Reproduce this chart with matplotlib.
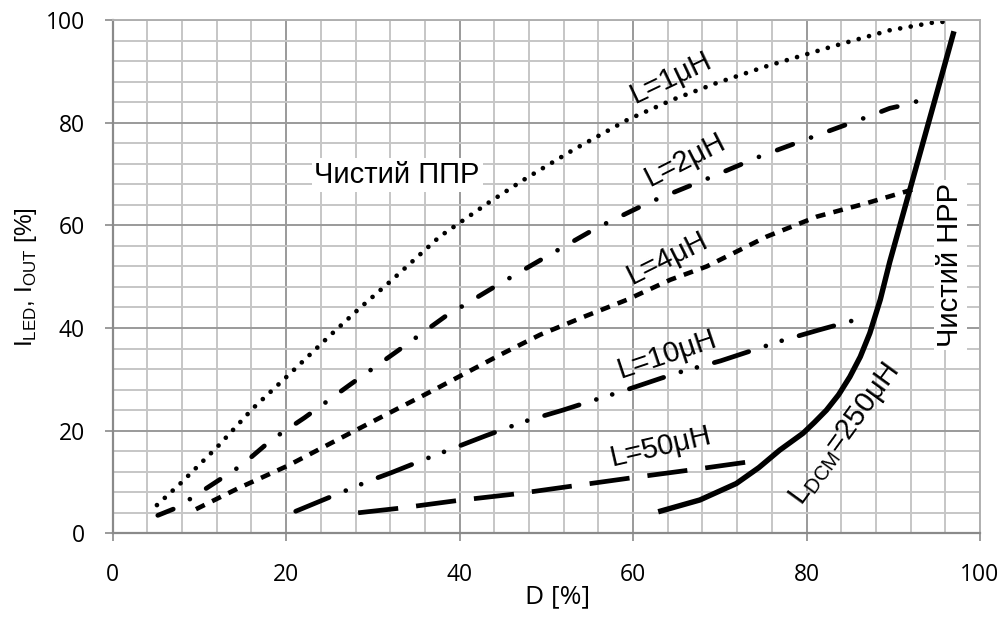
import numpy as np
import matplotlib
matplotlib.use('Agg')
import matplotlib.pyplot as plt

plt.rcParams['lines.scale_dashes'] = False
plt.rcParams['font.family'] = ['Liberation Sans', 'DejaVu Sans']

# duty cycle D [%] vs LED current [%] for several inductances
d_1uh = [5.1, 7.8, 12.1, 16.2, 20.5, 24.9, 28.5, 32.1, 37.7, 43.5, 47.7, 53.1,
         59.4, 64.6, 69.6, 75.4, 83.1, 89.6, 94.6, 96.2]
i_1uh = [5.5, 9.7, 16.9, 24.4, 31.2, 38.3, 43.9, 49.2, 57.8, 64.6, 69.2, 74.7,
         80.6, 84.5, 87.7, 91.0, 94.9, 98.0, 99.5, 99.7]

d_2uh = [5.2, 7.4, 11.1, 14.9, 18.3, 22.1, 27.4, 32.9, 38.3, 44.1, 50.0, 55.8,
         61.9, 68.3, 74.6, 81.0, 87.3, 89.6, 91.7, 93.9]
i_2uh = [3.5, 5.0, 9.1, 13.3, 18.2, 22.5, 29.0, 35.6, 42.2, 48.1, 53.9, 59.5,
         64.5, 68.9, 73.4, 77.4, 81.3, 82.8, 83.6, 84.8]

d_4uh = [9.6, 14.5, 20.1, 27.7, 37.0, 44.7, 49.3, 54.5, 59.3, 64.3, 68.5, 75.4,
         81.2, 86.9, 92.3]
i_4uh = [4.7, 8.8, 13.1, 19.8, 27.9, 34.8, 38.7, 42.3, 45.5, 49.4, 52.0, 57.8,
         61.7, 64.3, 67.0]

d_10uh = [21.1, 25.4, 29.7, 32.1, 36.4, 40.7, 43.0, 47.5, 51.9, 54.3, 58.8, 63.2,
          65.6, 70.1, 74.6, 76.9, 81.4, 85.9]
i_10uh = [4.3, 7.3, 10.3, 11.8, 14.7, 17.5, 19.0, 21.8, 24.0, 25.3, 27.7, 30.2,
          31.5, 33.6, 36.1, 37.4, 39.6, 41.7]

d_50uh = [28.3, 33.1, 39.8, 46.6, 50.4, 60.2, 67.3, 74.1]
i_50uh = [4.0, 4.9, 6.4, 7.7, 8.6, 10.9, 12.5, 14.1]

d_dcm = [62.9, 67.7, 71.9, 74.5, 76.9, 79.6, 80.9, 82.3, 83.7, 85.0, 86.2,
         87.3, 88.5, 89.6, 91.2, 92.8, 94.4, 96.0, 97.0]
i_dcm = [4.2, 6.5, 9.7, 12.8, 16.2, 19.5, 21.6, 24.0, 27.0, 30.5, 34.4,
         39.0, 45.5, 52.9, 62.6, 72.3, 82.0, 91.7, 97.8]

fig = plt.figure(figsize=(10.08, 6.17), dpi=100)
ax = fig.add_axes([0.1118, 0.1356, 0.8604, 0.832])

ax.plot(d_1uh, i_1uh, color='black', lw=3.4, linestyle=(0, (0.01, 7.7)),
        dash_capstyle='round')
ax.plot(d_2uh, i_2uh, color='black', lw=3.4,
        linestyle=(0, (12, 14, 0.01, 14)), dash_capstyle='round')
ax.plot(d_4uh, i_4uh, color='black', lw=3.3, linestyle=(0, (7, 6)))
ax.plot(d_10uh, i_10uh, color='black', lw=3.4,
        linestyle=(0, (26, 13, 0.01, 12, 0.01, 13)), dash_capstyle='round')
ax.plot(d_50uh, i_50uh, color='black', lw=3.4, linestyle=(0, (29, 13)))
ax.plot(d_dcm, i_dcm, color='black', lw=3.9, solid_capstyle='butt',
        solid_joinstyle='round')

ax.set_xlim(0, 100)
ax.set_ylim(0, 100)
ax.set_xticks(np.arange(0, 101, 20))
ax.set_yticks(np.arange(0, 101, 20))
ax.set_xticks(np.arange(0, 101, 4), minor=True)
ax.set_yticks(np.arange(0, 101, 4), minor=True)
ax.grid(which='minor', color='#c6c6c6', lw=1.4)
ax.grid(which='major', color='#9a9a9a', lw=1.4)
ax.set_axisbelow(True)
ax.tick_params(which='minor', length=0)
ax.tick_params(which='major', length=6, width=1.2, color='#8a8a8a',
               labelsize=16.5)
ax.tick_params(axis='x', pad=15)
ax.tick_params(axis='y', pad=14)
for lbl in ax.get_xticklabels() + ax.get_yticklabels():
    lbl.set_family('Open Sans')
for side in ['left', 'bottom']:
    ax.spines[side].set_color('#8a8a8a')
    ax.spines[side].set_linewidth(1.6)
for side in ['top', 'right']:
    ax.spines[side].set_color('#b0b0b0')
    ax.spines[side].set_linewidth(1.4)

ax.set_xlabel('D [%]', fontsize=19, family='Open Sans')
ax.xaxis.set_label_coords(0.513, -0.1)
ax.set_ylabel(r'I$_{\mathregular{LED}}$, I$_{\mathregular{OUT}}$ [%]',
              fontsize=17.5)
ax.yaxis.set_label_coords(-0.085, 0.5)

box = dict(facecolor='white', edgecolor='none', pad=2)
ax.text(32.8, 69.8, 'Чистий ППР', fontsize=21, ha='center', va='center', bbox=box)
ax.text(96.6, 52.3, 'Чистий НРР', fontsize=21, ha='center', va='center',
        rotation=90, bbox=box)
ax.text(64.4, 88.8, 'L=1μH', fontsize=21, ha='center', va='center', rotation=25.5)
ax.text(66.0, 72.7, 'L=2μH', fontsize=21, ha='center', va='center', rotation=27)
ax.text(63.9, 53.6, 'L=4μH', fontsize=21, ha='center', va='center', rotation=26.5)
ax.text(63.9, 34.8, 'L=10μH', fontsize=21, ha='center', va='center', rotation=18.5)
ax.text(63.2, 16.9, 'L=50μH', fontsize=21, ha='center', va='center', rotation=13)
ax.text(84.4, 19.2, r'L$_{\mathregular{DCM}}$=250μH', fontsize=21, ha='center',
        va='center', rotation=54)

fig.savefig('out.png', dpi=100)
